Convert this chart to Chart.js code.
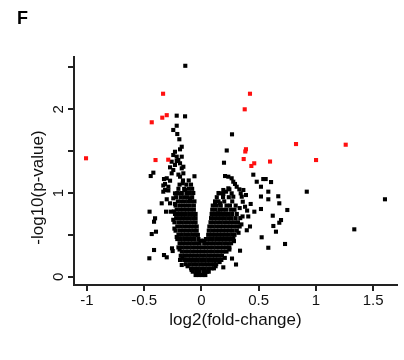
<!DOCTYPE html>
<html><head><meta charset="utf-8">
<script src="https://cdn.jsdelivr.net/npm/chart.js@4/dist/chart.umd.min.js"></script>
<style>html,body{margin:0;padding:0;background:#fff}</style>
</head><body>
<canvas id="c" width="404" height="360"></canvas>
<script>
// ---- data (log2 fold-change, -log10 p-value) ----
const panelLabel = 'F';
const xTitle = 'log2(fold-change)';
const yTitle = '-log10(p-value)';
const xTickValues = [-1, -0.5, 0, 0.5, 1, 1.5];
const yTickValues = [0, 0.5, 1, 1.5, 2, 2.5];
const yTickLabels = ['0', '', '1', '', '2', ''];

// significant proteins (red)
const sigPoints = [[-1.007,1.415],[-0.433,1.845],[-0.40,1.394],[-0.341,1.90],[-0.334,2.186],[-0.302,1.93],[-0.289,1.398],
  [0.379,2.0],[0.425,2.186],[0.39,1.523],[0.384,1.496],[0.37,1.406],[0.462,1.355],[0.437,1.323],[0.60,1.376],
  [0.827,1.585],[1.002,1.394],[1.261,1.577]];

// dense core of the volcano, row by row: y value and the x values on that row
const coreY = [0.02,0.06,0.10,0.15,0.20,0.25,0.30,0.35,0.40,0.45,0.50,0.55,0.60,0.65,0.70,0.75,0.80,0.85,0.90,0.95,1.00,1.05,1.10,1.15];
const coreX = [
  [-0.05,-0.02,0.01,0.035],
  [-0.075,-0.045,-0.015,0.02,0.05,0.065],
  [-0.09,-0.06,-0.03,0.00,0.03,0.06,0.09,0.11],
  [-0.135,-0.10,-0.07,-0.04,-0.01,0.02,0.05,0.08,0.11,0.13],
  [-0.15,-0.12,-0.09,-0.06,-0.03,0.00,0.03,0.06,0.09,0.12,0.15,0.175],
  [-0.18,-0.15,-0.12,-0.09,-0.06,-0.03,0.00,0.03,0.06,0.09,0.12,0.15,0.18],
  [-0.17,-0.14,-0.11,-0.08,-0.05,-0.02,0.01,0.04,0.07,0.10,0.13,0.16,0.19,0.22],
  [-0.20,-0.17,-0.14,-0.11,-0.08,-0.05,-0.02,0.01,0.04,0.07,0.10,0.13,0.16,0.19,0.22,0.245],
  [-0.19,-0.16,-0.13,-0.10,-0.07,-0.04,-0.015,0.025,0.05,0.08,0.11,0.14,0.17,0.20,0.23,0.26],
  [-0.21,-0.18,-0.15,-0.12,-0.09,-0.06,-0.025,0.04,0.07,0.10,0.13,0.16,0.19,0.22,0.25,0.28],
  [-0.20,-0.17,-0.14,-0.11,-0.08,-0.05,-0.03,0.06,0.09,0.12,0.15,0.18,0.21,0.24,0.27,0.29],
  [-0.225,-0.19,-0.16,-0.13,-0.10,-0.07,-0.04,0.065,0.095,0.125,0.155,0.185,0.215,0.245,0.275,0.31],
  [-0.21,-0.18,-0.15,-0.12,-0.09,-0.06,-0.04,0.07,0.10,0.13,0.16,0.19,0.22,0.25,0.28,0.31,0.335],
  [-0.235,-0.20,-0.17,-0.14,-0.11,-0.08,-0.05,0.08,0.11,0.14,0.17,0.20,0.23,0.26,0.29,0.32],
  [-0.22,-0.19,-0.16,-0.13,-0.10,-0.07,-0.05,0.085,0.115,0.145,0.175,0.205,0.235,0.265,0.30,0.34],
  [-0.23,-0.195,-0.165,-0.135,-0.105,-0.075,-0.05,0.09,0.12,0.15,0.18,0.21,0.24,0.27,0.31],
  [-0.215,-0.185,-0.155,-0.125,-0.095,-0.065,0.095,0.125,0.16,0.19,0.22,0.26,0.29],
  [-0.225,-0.19,-0.16,-0.13,-0.10,-0.065,0.10,0.135,0.17,0.22,0.25,0.30],
  [-0.205,-0.175,-0.145,-0.115,-0.085,-0.06,0.12,0.15,0.20,0.27],
  [-0.22,-0.18,-0.15,-0.12,-0.08,0.135,0.19,0.24],
  [-0.21,-0.17,-0.13,-0.10,-0.07,0.15],
  [-0.20,-0.15,-0.11,-0.08],
  [-0.19,-0.13,-0.09],
  [-0.16,-0.11]
];

// points along the ragged edges of the core
const edgePoints = [[-0.12,0.125],[-0.085,0.08],[-0.165,0.225],[-0.19,0.325],[-0.215,0.475],[-0.235,0.575],[-0.245,0.68],
  [-0.24,0.78],[-0.23,0.87],[-0.005,0.43],[0.02,0.43],[0.125,0.125],[0.16,0.175],[0.205,0.225],[0.245,0.325],
  [0.285,0.425],[0.325,0.525],[0.35,0.625],[0.36,0.72],[0.335,0.82],[-0.06,1.2],[-0.2,1.22]];

// scattered non-significant proteins, left side
const leftPoints = [[-0.14,2.52],[-0.215,1.924],[-0.142,1.916],[-0.215,1.804],[-0.245,1.753],[-0.21,1.705],[-0.192,1.642],
  [-0.171,1.553],[-0.186,1.522],[-0.23,1.493],[-0.245,1.454],[-0.215,1.434],[-0.171,1.434],[-0.259,1.374],[-0.215,1.382],
  [-0.201,1.394],[-0.186,1.355],[-0.157,1.314],[-0.23,1.335],[-0.273,1.307],[-0.245,1.275],[-0.259,1.235],[-0.302,1.176],
  [-0.171,1.295],[-0.157,1.235],[-0.186,1.195],[-0.162,1.116],[-0.273,1.147],[-0.326,1.167],[-0.317,1.108],[-0.332,1.09],
  [-0.288,1.075],[-0.288,1.03],[-0.332,1.016],[-0.317,1.036],[-0.201,0.996],[-0.142,1.036],[-0.23,0.996],[-0.245,0.937],
  [-0.302,0.925],[-0.346,0.877],[-0.273,0.877],[-0.308,0.777],[-0.267,0.777],[-0.452,0.777],[-0.442,1.203],[-0.419,1.243],
  [-0.404,0.698],[-0.413,0.657],[-0.396,0.538],[-0.433,0.51],[-0.413,0.319],[-0.454,0.22],[-0.326,0.259],[-0.302,0.232],
  [-0.256,0.339],[-0.25,0.307],[-0.186,0.2],[-0.171,0.14],[-0.114,0.996],[-0.099,0.937]];

// scattered non-significant proteins, right side
const rightPoints = [[0.222,1.508],[0.198,1.362],[0.268,1.701],[0.454,1.219],[0.484,1.135],[0.541,1.167],[0.562,1.167],
  [0.609,1.131],[0.521,1.075],[0.585,1.016],[0.672,0.961],[0.585,0.925],[0.521,0.958],[0.431,0.869],[0.681,0.877],
  [0.521,0.809],[0.751,0.797],[0.463,0.777],[0.624,0.729],[0.696,0.677],[0.681,0.645],[0.629,0.606],[0.652,0.538],
  [0.527,0.471],[0.731,0.391],[0.585,0.346],[0.338,0.311],[0.268,0.217],[0.303,0.146],[0.192,0.112],[0.921,1.016],
  [1.604,0.925],[1.336,0.566],
  [0.207,1.203],[0.236,1.195],[0.265,1.176],[0.279,1.135],[0.294,1.108],[0.309,1.075],[0.332,1.044],[0.344,0.996],
  [0.353,0.956],[0.362,0.896],[0.382,0.836],[0.39,0.976],[0.367,1.036],[0.163,0.996],[0.192,0.988],[0.216,1.016],
  [0.245,1.044],[0.265,0.996],[0.279,0.956],[0.192,1.036],[0.236,1.056],[0.163,0.877],[0.12,0.857],[0.148,0.757],
  [0.41,0.72],[0.425,0.6],[0.397,0.555],[0.40,0.79]];

// ---- build datasets ----
const toXY = p => ({x: p[0], y: p[1]});
const corePoints = [];
coreY.forEach((y, i) => coreX[i].forEach(x => corePoints.push({x, y})));
const blackData = corePoints.concat(edgePoints.map(toXY), leftPoints.map(toXY), rightPoints.map(toXY));
const redData = sigPoints.map(toXY);

const FONT = "'Liberation Sans', Arial, sans-serif";
Chart.defaults.font.family = FONT;
Chart.defaults.color = '#111';

const axisCol = '#222';
new Chart(document.getElementById('c'), {
  type: 'scatter',
  data: {
    datasets: [
      {data: redData, backgroundColor: '#ff1010', borderWidth: 0, pointStyle: 'rect', pointRadius: 2.9, pointHoverRadius: 2.9},
      {data: blackData, backgroundColor: '#000', borderWidth: 0, pointStyle: 'rect', pointRadius: 2.9, pointHoverRadius: 2.9}
    ]
  },
  options: {
    responsive: false,
    animation: false,
    devicePixelRatio: 1,
    layout: {padding: {left: 17, right: 7, top: 0, bottom: 0}},
    plugins: {
      legend: {display: false},
      tooltip: {enabled: false},
      title: {display: true, text: panelLabel, align: 'start', color: '#000',
        font: {size: 18, weight: 'bold', family: FONT}, padding: {top: 8, bottom: 27.4}}
    },
    scales: {
      x: {
        type: 'linear', position: 'bottom', min: -1.112, max: 1.709,
        afterBuildTicks: s => { s.ticks = xTickValues.map(v => ({value: v})); },
        afterFit: s => { s.height = 75; },
        ticks: {callback: v => String(v), font: {size: 15}, color: '#111', padding: 1, maxRotation: 0, autoSkip: false},
        grid: {drawOnChartArea: false, drawTicks: true, tickLength: 6, tickWidth: 2, tickColor: axisCol, color: axisCol, lineWidth: 2},
        border: {display: true, color: axisCol, width: 2},
        title: {display: true, text: xTitle, font: {size: 17}, color: '#111', padding: {top: 0, bottom: 29}}
      },
      y: {
        type: 'linear', position: 'left', min: -0.099, max: 2.625,
        afterBuildTicks: s => { s.ticks = yTickValues.map(v => ({value: v})); },
        afterFit: s => { s.width = 57; },
        ticks: {callback: (v, i) => yTickLabels[i], font: {size: 15}, color: '#111', padding: 5,
          minRotation: 90, maxRotation: 90, crossAlign: 'center', autoSkip: false},
        grid: {drawOnChartArea: false, drawTicks: true, tickLength: 6, tickWidth: 2, tickColor: axisCol, color: axisCol, lineWidth: 2},
        border: {display: true, color: axisCol, width: 2},
        title: {display: true, text: yTitle + '       ', font: {size: 17}, color: '#111', padding: {top: 11, bottom: 0}}
      }
    }
  }
});
</script>
</body></html>
